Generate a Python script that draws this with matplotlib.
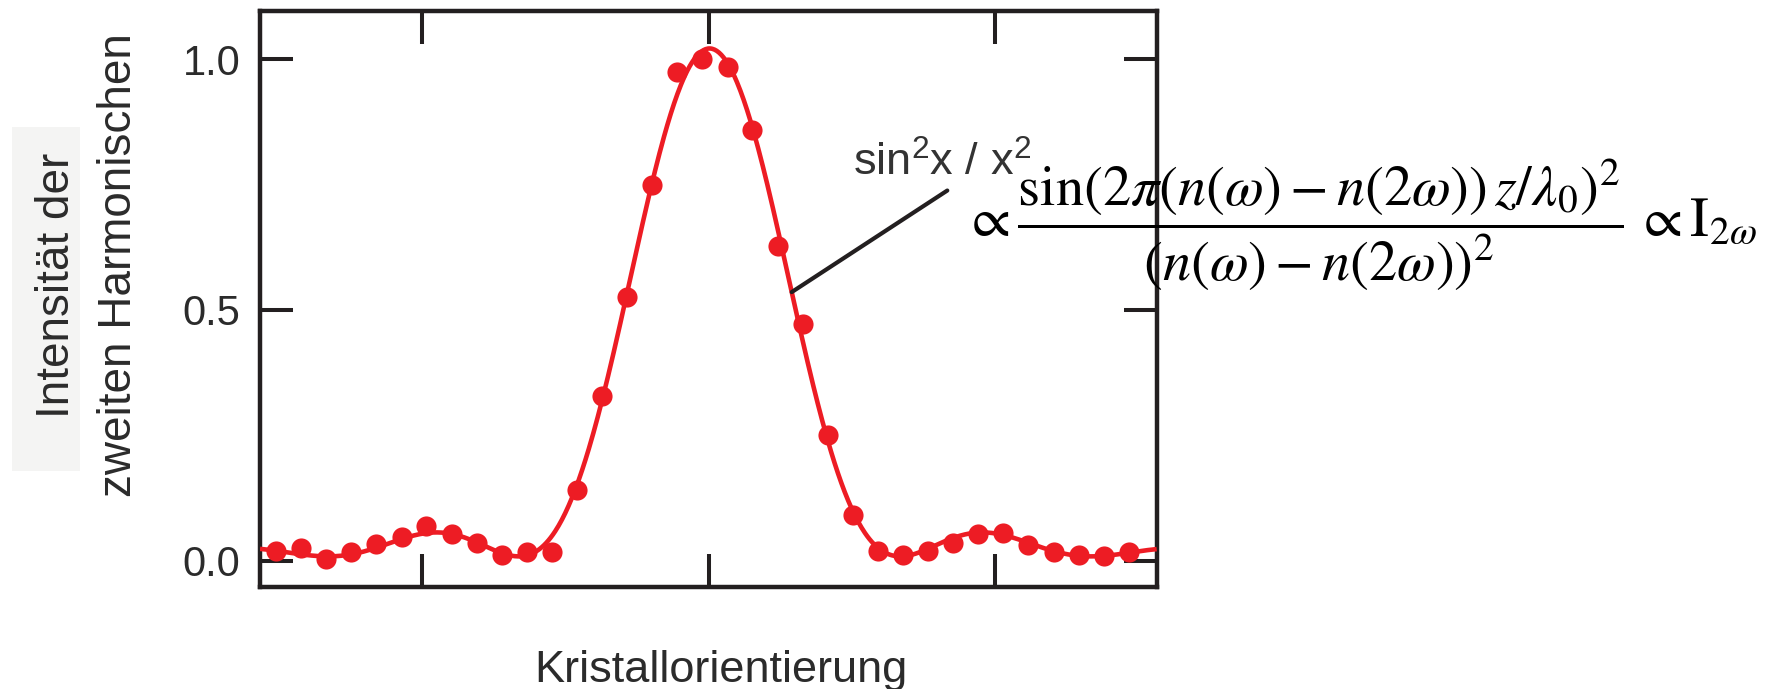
import numpy as np
import matplotlib
matplotlib.use("Agg")
import matplotlib.pyplot as plt
from matplotlib.patches import Rectangle

plt.rcParams["font.family"] = ["Liberation Sans", "DejaVu Sans"]
plt.rcParams["mathtext.rm"] = "Liberation Sans"
plt.rcParams["mathtext.it"] = "Liberation Sans:italic"
plt.rcParams["mathtext.bf"] = "Liberation Sans:bold"

# Second-harmonic intensity (normalised) versus crystal orientation
orientation = [-15.10, -14.22, -13.35, -12.47, -11.60, -10.72, -9.85, -8.97, -8.10, -7.22,
               -6.35, -5.47, -4.60, -3.72, -2.84, -1.97, -1.09, -0.22, 0.66, 1.53,
               2.41, 3.28, 4.16, 5.03, 5.91, 6.78, 7.66, 8.54, 9.41, 10.29,
               11.16, 12.04, 12.91, 13.79, 14.66]
intensity = [0.019, 0.025, 0.004, 0.017, 0.034, 0.048, 0.070, 0.054, 0.035, 0.011,
             0.018, 0.018, 0.141, 0.328, 0.526, 0.750, 0.974, 1.000, 0.985, 0.859,
             0.628, 0.472, 0.251, 0.091, 0.020, 0.012, 0.020, 0.035, 0.054, 0.055,
             0.032, 0.017, 0.012, 0.009, 0.017]
x_ticks = [-10, 0, 10]
y_ticks = [0.0, 0.5, 1.0]
y_ticklabels = ["0.0", "0.5", "1.0"]

RED = "#ED1C24"
INK = "#231F20"

x = np.asarray(orientation)
y = np.asarray(intensity)


def sinc2(u):
    # sin^2(u) / u^2
    return np.sinc(u / np.pi) ** 2


# least-squares fit of  c + A * sin^2(u)/u^2,  u = (x - x0) / w
x0_grid = np.linspace(-1.0, 1.0, 201)[:, None, None]
w_grid = np.linspace(1.5, 3.0, 301)[None, :, None]
S = sinc2((x[None, None, :] - x0_grid) / w_grid)
n = len(x)
s1 = S.sum(-1)
s2 = (S * S).sum(-1)
sy = (S * y).sum(-1)
y1 = y.sum()
det = s2 * n - s1 * s1
A = (sy * n - s1 * y1) / det
c = (s2 * y1 - s1 * sy) / det
res = ((A[..., None] * S + c[..., None] - y) ** 2).sum(-1)
i, j = np.unravel_index(np.argmin(res), res.shape)
fit_x0, fit_w, fit_A, fit_c = x0_grid[i, 0, 0], w_grid[0, j, 0], A[i, j], c[i, j]


def model(t):
    return fit_c + fit_A * sinc2((np.asarray(t) - fit_x0) / fit_w)


fig = plt.figure(figsize=(17.68, 6.89), dpi=100)
ax = fig.add_axes([0.14706, 0.14848, 0.50719, 0.83628])
ax.set_xlim(-15.66, 15.64)
ax.set_ylim(-0.052, 1.097)

xs = np.linspace(-15.66, 15.64, 800)
ax.plot(xs, model(xs), color=RED, lw=3.3, zorder=3, solid_capstyle="butt")
ax.plot(x, y, "o", ms=14.5, color=RED, mec="none", zorder=4)

ax.set_xticks(x_ticks)
ax.set_xticklabels([])
ax.set_yticks(y_ticks)
ax.set_yticklabels(y_ticklabels)
ax.tick_params(direction="in", length=24, width=2.9, top=True, right=True,
               labelsize=30, pad=14, color=INK, labelcolor="#2b2b2b")
for sp in ax.spines.values():
    sp.set_linewidth(3.2)
    sp.set_color(INK)

# fit label with leader line to the curve
x_hit = 2.90
ax.annotate("", xy=(x_hit, float(model(x_hit))), xytext=(8.33, 0.738),
            arrowprops=dict(arrowstyle="-", lw=3.0, color=INK, shrinkA=0, shrinkB=0))
ax.text(5.03, 0.768, r"sin$^2$x / x$^2$", fontsize=32.5, color="#333333",
        ha="left", va="baseline", math_fontfamily="custom", zorder=5)

# axis titles
fig.add_artist(Rectangle((12 / 1768, (689 - 471) / 689), 68 / 1768, 344 / 689,
                         transform=fig.transFigure, facecolor="#f4f4f3",
                         edgecolor="none", zorder=1))
fig.text(0.0325, 0.586, "Intensität der", rotation=90, ha="center", va="center",
         fontsize=33, color="#2b2b2b", zorder=3)
fig.text(0.0672, 0.615, "zweiten Harmonischen", rotation=90, ha="center", va="center",
         fontsize=33, color="#2b2b2b", zorder=3)
fig.text(0.4075, 0.0102, "Kristallorientierung", ha="center", va="baseline",
         fontsize=32.5, color="#2b2b2b")

# phase-matching relation
formula = (r"$\propto\dfrac{\sin(2\pi\left(n(\omega)-n(2\omega)\right)\,z/\lambda_0)^2}"
           r"{\left(n(\omega)-n(2\omega)\right)^2}\,\propto\mathrm{I}_{2\omega}$")
fig.text(0.5445, 0.673, formula, ha="left", va="center", fontsize=40.5,
         color="black", math_fontfamily="stix", zorder=6)

fig.savefig("out.png", dpi=100, facecolor="white")
